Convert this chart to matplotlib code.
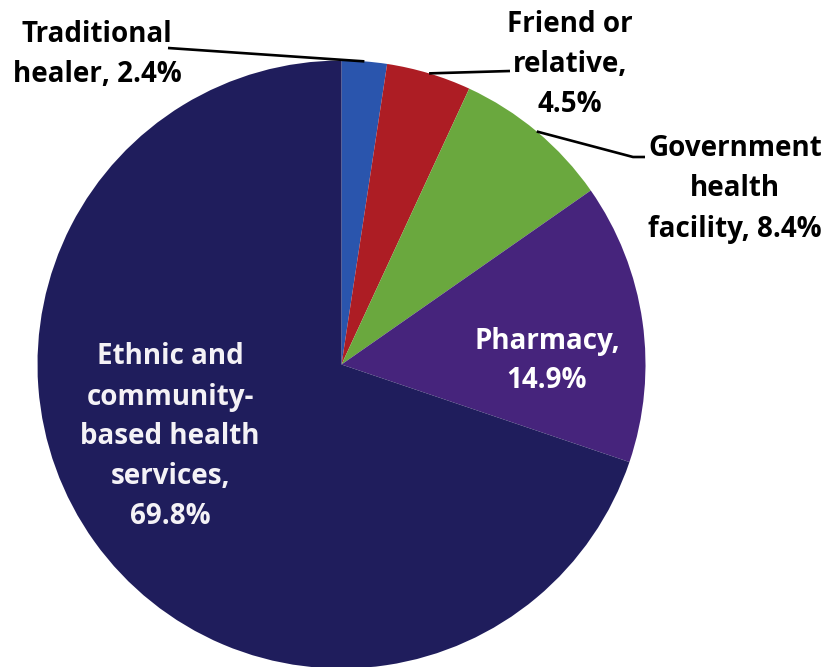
import numpy as np
import matplotlib
matplotlib.use("Agg")
import matplotlib.pyplot as plt

# Source of care, share of respondents (%)
categories = [
    "Traditional healer",
    "Friend or relative",
    "Government health facility",
    "Pharmacy",
    "Ethnic and community-based health services",
]
shares = [2.4, 4.5, 8.4, 14.9, 69.8]
slice_labels = [
    "Traditional\nhealer, 2.4%",
    "Friend or\nrelative,\n4.5%",
    "Government\nhealth\nfacility, 8.4%",
    "Pharmacy,\n14.9%",
    "Ethnic and\ncommunity-\nbased health\nservices,\n69.8%",
]
colors = ["#2a55ad", "#ad1d24", "#6aa83e", "#46247c", "#1f1d5c"]

W, H = 826, 667
CX, CY, R = 341.5, H - 364.5, 304.0


def px(x, y):
    """Convert top-left pixel coordinates to the axes' y-up coordinates."""
    return x, H - y


fig = plt.figure(figsize=(W / 100, H / 100), dpi=100)
ax = fig.add_axes([0, 0, 1, 1])
wedges, _ = ax.pie(
    shares,
    colors=colors,
    startangle=90,
    counterclock=False,
    center=(CX, CY),
    radius=R,
    wedgeprops=dict(linewidth=0),
)
ax.set_xlim(0, W)
ax.set_ylim(0, H)
ax.set_aspect("equal")
ax.axis("off")

font = dict(family=["Open Sans", "DejaVu Sans"], fontweight="bold", fontsize=20,
            ha="center", va="center", linespacing=1.5)

# Mid-angle of each wedge, used to anchor the leader lines on the rim
mids = [np.deg2rad((w.theta1 + w.theta2) / 2) for w in wedges]


def rim(i):
    return CX + R * np.cos(mids[i]), CY + R * np.sin(mids[i])


# Outside labels with leader lines
text_pos = {0: px(97, 54), 1: px(570, 64), 2: px(735, 189)}
leader_start = {0: [px(168, 48)], 1: [px(510, 71)], 2: [px(645, 157), px(633, 157)]}
for i in (0, 1, 2):
    ax.text(*text_pos[i], slice_labels[i], color="black", **font)
    pts = leader_start[i] + [rim(i)]
    xs, ys = zip(*pts)
    ax.plot(xs, ys, color="black", linewidth=1.9, solid_capstyle="butt")

# Inside labels
ax.text(*px(547, 361), slice_labels[3], color="white", **font)
ax.text(*px(170, 437), slice_labels[4], color="#f4f2f6", **font)

fig.savefig("out.png", dpi=100, facecolor="white")
